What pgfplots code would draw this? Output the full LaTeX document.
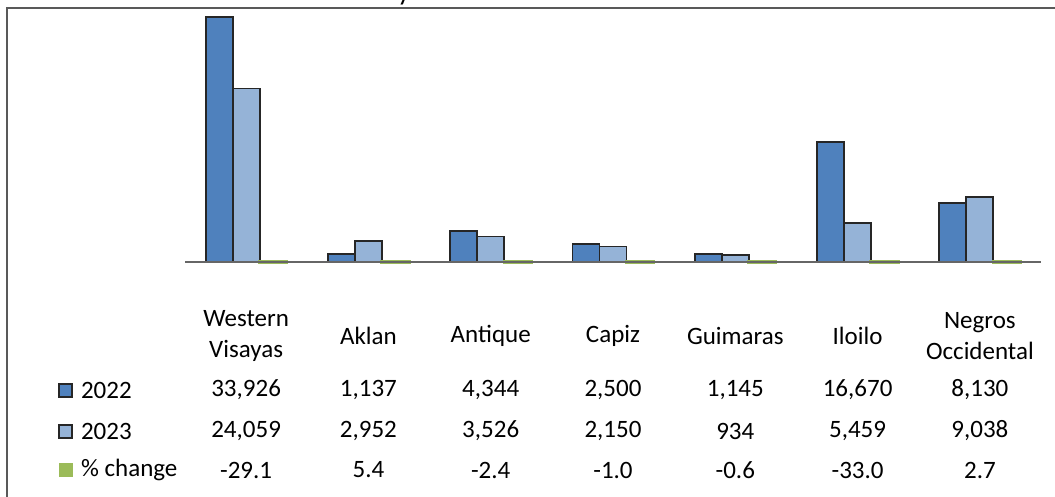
\documentclass[border=0pt]{standalone}
\usepackage{fontspec}
\setmainfont{Carlito}
\usepackage{pgfplots}
\usepackage{pgfplotstable}
\pgfplotsset{compat=1.18}
\definecolor{c22}{HTML}{4F81BD}
\definecolor{c23}{HTML}{95B3D7}
\definecolor{cg}{HTML}{9BBB59}
\pgfplotstableread{
x a b c
0 33926 24059 -29.1
1 1137 2952 5.4
2 4344 3526 -2.4
3 2500 2150 -1.0
4 1145 934 -0.6
5 16670 5459 -33.0
6 8130 9038 2.7
}\data
\begin{document}
\begin{tikzpicture}[x=0.5pt,y=0.5pt,font=\fontsize{12.5}{15.5}\selectfont]
\useasboundingbox (0,0) rectangle (1055,497);
\begin{scope}
\clip (0,0) rectangle (1055,497);
\node[anchor=base,font=\fontsize{14}{16}\selectfont] at (404,496) {y};
\end{scope}
\draw[black!65,line width=1.1pt] (7,-2) -- (7,489) -- (1058,489);
\begin{axis}[
  at={(92.5pt,117.5pt)}, anchor=south west,
  width=428pt, height=126.25pt, scale only axis,
  xmin=-0.5, xmax=6.5, ymin=0, ymax=35000,
  hide axis, clip=false,
  ybar=0pt, bar width=13.5pt,
]
\addplot[fill=c22, draw=black!85, line width=0.9pt] table[x=x,y=a] \data;
\addplot[fill=c23, draw=black!85, line width=0.9pt] table[x=x,y=b] \data;
\addplot[fill=cg, draw=cg, line width=1.6pt] table[x=x,y=c] \data;
\draw[black!60, line width=0.9pt] (axis cs:-0.5,0) -- (axis cs:6.5,0);
\end{axis}
% category names
\foreach \i/\n in {0/{Western\\Visayas},1/Aklan,2/Antique,3/Capiz,4/Guimaras,5/Iloilo,6/{Negros\\Occidental}}{
  \pgfmathsetmacro\xx{246.1+122.3*\i}
  \node[align=center,text=black] at (\xx,497-336) {\n};
}
% data table rows
\foreach \i in {0,...,6}{
  \pgfmathsetmacro\xx{246.1+122.3*\i}
  \pgfplotstablegetelem{\i}{a}\of\data
  \node[text=black] at (\xx,497-390) {\pgfmathprintnumber[fixed,precision=0,1000 sep={,},assume math mode=true]{\pgfplotsretval}};
  \pgfplotstablegetelem{\i}{b}\of\data
  \node[text=black] at (\xx,497-431) {\pgfmathprintnumber[fixed,precision=0,1000 sep={,},assume math mode=true]{\pgfplotsretval}};
  \pgfplotstablegetelem{\i}{c}\of\data
  \node[text=black] at (\xx,497-470) {\pgfmathprintnumber[fixed,fixed zerofill,precision=1,1000 sep={,},assume math mode=true]{\pgfplotsretval}};
}
% legend keys
\draw[fill=c22,draw=black!85,line width=0.9pt] (59,497-397) rectangle (72,497-384);
\draw[fill=c23,draw=black!85,line width=0.9pt] (59,497-438) rectangle (72,497-425);
\fill[cg] (59,497-477) rectangle (73,497-463);
\node[anchor=west,text=black] at (74,497-390) {2022};
\node[anchor=west,text=black] at (74,497-431) {2023};
\node[anchor=west,text=black] at (74,497-470) {\% change};
\end{tikzpicture}
\end{document}
